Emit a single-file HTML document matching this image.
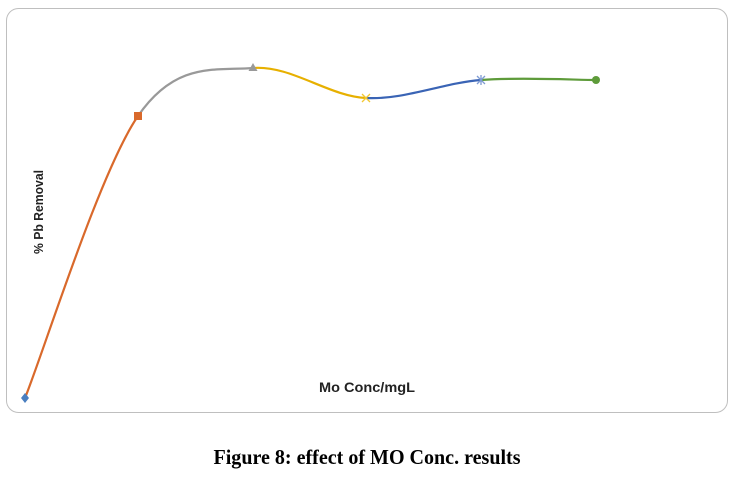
<!DOCTYPE html>
<html><head><style>
body{margin:0;background:#fff;width:737px;height:476px;overflow:hidden}
</style></head><body>
<svg width="737" height="476" xmlns="http://www.w3.org/2000/svg">
<rect x="6.5" y="8.5" width="721" height="404" rx="12" fill="#fff" stroke="#bfbfbf" stroke-width="1"/>
<g fill="none" stroke-width="2.2">
<path d="M25,398 C44,351 100,171 138,116" stroke="#d9692b"/>
<path d="M138,116 C176,61 215,71 253,68" stroke="#999"/>
<path d="M253,68 C291,65 328,96 366,98" stroke="#e7b000"/>
<path d="M366,98 C404,100 443,83 481,80" stroke="#3a64b5"/>
<path d="M481,80 C519,77 577,80 596,80" stroke="#5e9b3a"/>
</g>
<path d="M25,393 L29,398 L25,403 L21,398Z" fill="#4a7fc0"/>
<rect x="134" y="112" width="8" height="8" fill="#d9692b"/>
<path d="M253,63 L257.5,71 L248.5,71Z" fill="#999"/>
<path d="M362,94 L370,102 M370,94 L362,102" stroke="#f2c832" stroke-width="1.3"/>
<path d="M477,76 L485,84 M485,76 L477,84 M481,75 L481,85" stroke="#7f9bd3" stroke-width="1.3"/>
<circle cx="596" cy="80" r="4" fill="#5e9b3a"/>
<text x="367" y="392" font-family="Liberation Sans, sans-serif" font-size="13.5" font-weight="bold" text-anchor="middle" fill="#222" textLength="96" lengthAdjust="spacingAndGlyphs">Mo Conc/mgL</text>
<text transform="translate(43,212) rotate(-90)" font-family="Liberation Sans, sans-serif" font-size="13" font-weight="bold" text-anchor="middle" fill="#222" textLength="84" lengthAdjust="spacingAndGlyphs">% Pb Removal</text>
<text x="367" y="464" font-family="Liberation Serif, serif" font-size="21" font-weight="bold" text-anchor="middle" fill="#000" textLength="307" lengthAdjust="spacingAndGlyphs">Figure 8: effect of MO Conc. results</text>
</svg>
</body></html>
